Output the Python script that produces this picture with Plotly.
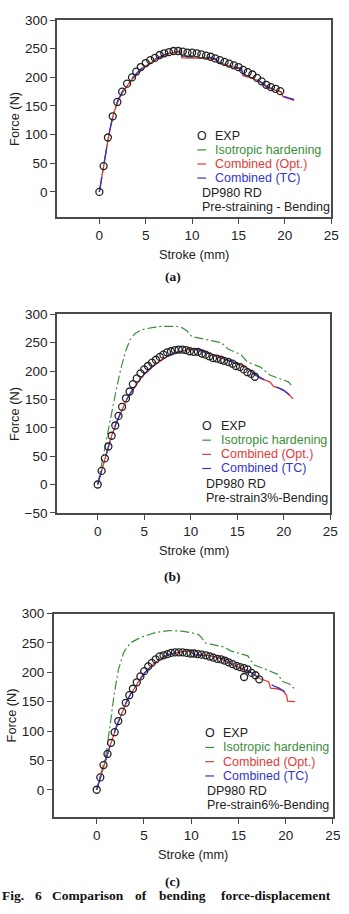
import plotly.graph_objects as go

W, H = 349, 914

# ---------------- DATA ----------------
# Panel (a): Pre-straining - Bending
a_exp_x = [0, 0.46, 0.92, 1.44, 1.94, 2.46, 2.99, 3.52, 3.98, 4.47, 5.0, 5.49, 5.99, 6.5, 7.0, 7.5, 8.0, 8.5,
           9.0, 9.5, 10.0, 10.5, 11.0, 11.5, 12.0, 12.5, 13.0, 13.5, 14.0, 14.5, 15.0, 15.5, 16.0, 16.5, 17.0,
           17.5, 18.0, 18.5, 19.0, 19.5]
a_exp_f = [0, 45, 95, 132, 157, 175, 189, 200, 210, 218, 225, 230, 234, 239, 242, 244, 246, 246,
           245, 243, 243, 242, 240, 238, 236, 233, 230, 227, 224, 221, 218, 213, 209, 205, 199,
           193, 187, 183, 180, 176]
a_sim_x = [0, 0.5, 1, 1.5, 2, 2.5, 3, 3.5, 4, 4.5, 5, 5.5, 6, 6.5, 7, 7.5, 8, 8.5, 8.8, 8.9, 10, 11, 12,
           12.6, 12.8, 13.5, 14, 15, 15.3, 15.5, 16, 16.5, 17, 17.5, 18, 18.5, 19, 19.6, 19.8, 20.5, 21]
a_iso_f = [0, 47, 97, 135, 159, 175, 187, 197, 206, 214, 220, 226, 231, 235, 239, 242, 244, 245, 246, 235,
           235, 235, 234, 231, 226, 223, 221, 217, 215, 204, 202, 199, 196, 191, 184, 181, 178, 175, 167, 164, 161]
a_opt_f = [0, 47, 97, 135, 158, 174, 186, 196, 205, 213, 219, 225, 230, 234, 238, 241, 243, 244, 245, 234,
           234, 234, 233, 230, 225, 222, 220, 216, 214, 203, 201, 198, 195, 190, 183, 180, 177, 174, 166, 163, 160]
a_tc_f = [0, 47, 98, 136, 160, 176, 188, 198, 207, 215, 221, 227, 232, 236, 240, 243, 245, 247, 248, 237,
          237, 236, 235, 232, 227, 224, 221, 217, 215, 205, 203, 199, 196, 191, 185, 181, 178, 175, 167, 164, 161]

# Panel (b): Pre-strain 3% - Bending
b_exp_x = [0, 0.42, 0.77, 1.15, 1.5, 1.89, 2.24, 2.62, 3.04, 3.43, 3.78, 4.2, 4.6, 5.0, 5.4, 5.84, 6.26, 6.68,
           7.06, 7.45, 7.87, 8.29, 8.7, 9.1, 9.5, 9.9, 10.35, 10.77, 11.2, 11.6, 12.0, 12.4, 12.8, 13.25,
           13.6, 14.05, 14.5, 14.86, 15.3, 15.7, 16.1, 16.5, 16.9]
b_exp_f = [0, 24, 46, 67, 86, 104, 121, 137, 152, 164, 177, 187, 196, 203, 209, 215, 220, 225,
           229, 233, 235, 237, 238, 238, 237, 235, 234, 234, 231, 229, 226, 223, 222, 220,
           218, 216, 213, 209, 207, 203, 198, 195, 190]
b_iso_x = [0, 0.5, 1.0, 1.5, 2.0, 2.5, 3.0, 3.5, 4.0, 4.5, 5, 6, 7, 8, 8.4, 9, 9.6, 10.1, 11, 11.9, 12.5,
           13.3, 14.0, 15.0, 15.4, 16.1, 16.6, 17.5, 18.5, 19.0, 20.0, 20.5, 21.0]
b_iso_f = [0, 42, 85, 128, 168, 205, 235, 256, 266, 271, 274, 277, 279, 279, 279, 277, 271, 261, 258, 255, 253,
           250, 239, 231, 229, 216, 213, 207, 193, 190, 185, 181, 171]
b_sim_x = [0, 0.5, 1, 1.5, 2, 2.5, 3, 3.5, 4, 4.5, 5, 5.5, 6, 6.5, 7, 7.5, 8, 8.5, 9, 9.5, 10, 10.5, 11, 11.5,
           12, 12.5, 13, 13.5, 14, 14.5, 15, 15.5, 16, 16.5, 16.8, 17.5, 18, 18.5, 18.9, 19.5, 20, 20.5, 21]
b_opt_f = [0, 28, 58, 86, 108, 128, 146, 160, 173, 184, 194, 202, 209, 215, 221, 226, 230, 233, 235, 237, 238,
           239, 237, 234, 231, 228, 225, 223, 220, 217, 214, 210, 205, 200, 195, 187, 184, 181, 173, 170, 166, 160, 151]
b_tc_f = [0, 28, 59, 87, 109, 129, 147, 161, 174, 185, 195, 203, 210, 216, 221, 226, 230, 233, 235, 236, 237,
          238, 237, 234, 231, 228, 226, 223, 220, 217, 214, 210, 205, 200, 195, 188, 184, 181, 174, 170, 166, 159, 151]

# Panel (c): Pre-strain 6% - Bending
c_exp_x = [0, 0.38, 0.72, 1.14, 1.52, 1.9, 2.28, 2.69, 3.07, 3.45, 3.83, 4.24, 4.62, 5.03, 5.45, 5.83, 6.24,
           6.66, 7.07, 7.48, 7.86, 8.28, 8.69, 9.1, 9.52, 9.93, 10.3, 10.7, 11.1, 11.55, 11.97, 12.34, 12.76,
           13.17, 13.55, 13.97, 14.38, 14.8, 15.17, 15.6, 15.6, 15.97, 16.4, 16.8, 17.2]
c_exp_f = [0, 21, 42, 61, 80, 98, 117, 133, 148, 161, 172, 183, 193, 202, 210, 216, 222,
           227, 229, 231, 233, 234, 234, 234, 233, 232, 232, 231, 230, 229, 227, 225, 223,
           222, 220, 217, 214, 211, 209, 207, 192, 205, 199, 195, 188]
c_iso_x = [0, 0.5, 1.0, 1.5, 1.83, 2.3, 2.86, 3.55, 4.59, 5.5, 6.3, 7.7, 9.07, 10.45, 10.8, 11.1, 11.5, 12.9,
           13.55, 14.1, 15.1, 16.0, 16.6, 17.7, 18.7, 19.1, 19.75, 20.4, 21.0]
c_iso_f = [0, 30, 62, 120, 161, 205, 234, 250, 259, 264, 268, 271, 270, 266, 264, 259, 250, 245,
           243, 237, 232, 228, 213, 206, 199, 197, 184, 180, 171]
c_opt_x = [0, 0.5, 1, 1.5, 2, 2.5, 3, 3.5, 4, 4.5, 5, 5.5, 6, 6.5, 7, 7.5, 8, 8.5, 9, 9.5, 9.9, 10.3, 11, 12,
           12.9, 13.9, 14.5, 15.3, 16.3, 17.3, 18.2, 18.4, 19.1, 19.7, 20.1, 20.2, 21]
c_opt_f = [0, 27, 55, 79, 103, 125, 144, 160, 174, 186, 197, 206, 214, 220, 225, 229, 232, 234, 235, 236,
           237, 230, 230, 228, 225, 217, 213, 208, 200, 189, 184, 173, 172, 169, 161, 151, 150]
c_tc_x = [0, 0.5, 1, 1.5, 2, 2.5, 3, 3.5, 4, 4.5, 5, 5.5, 6, 6.5, 7, 7.5, 8, 8.5, 9, 9.5, 10, 10.3, 11, 12,
          12.9, 13.9, 14.2, 15.3, 16.3, 17.3, 18.2, 18.6, 19.3, 19.8, 20.3, 21]
c_tc_f = [0, 27, 56, 80, 104, 126, 145, 161, 175, 187, 198, 207, 215, 221, 226, 230, 232, 233, 234, 235,
          234, 230, 229, 227, 224, 222, 215, 208, 200, 189, 184, 178, 173, 168, 166, 165]

x_ticks = [0, 5, 10, 15, 20, 25]
a_y_ticks = [0, 50, 100, 150, 200, 250, 300]
b_y_ticks = [-50, 0, 50, 100, 150, 200, 250, 300]
c_y_ticks = [0, 50, 100, 150, 200, 250, 300]

legend_names = ["EXP", "Isotropic hardening", "Combined (Opt.)", "Combined (TC)"]
panel_notes = [("DP980 RD", "Pre-straining - Bending"),
               ("DP980 RD", "Pre-strain3%-Bending"),
               ("DP980 RD", "Pre-strain6%-Bending")]
panel_tags = ["(a)", "(b)", "(c)"]
caption_words = ["Fig.", "6", "Comparison", "of", "bending", "force-displacement"]

# ---------------- STYLE ----------------
SANS = "Liberation Sans, Arial, sans-serif"
SERIF = "Liberation Serif, Times New Roman, serif"
GREEN = "#3a8f3a"
RED = "#e03a3a"
BLUE = "#3535c8"
AX = "#4a4a4a"


def px(x):
    return x / W


def py(y):
    return 1 - y / H


panels = [
    dict(exp=(a_exp_x, a_exp_f), iso=(a_sim_x, a_iso_f), opt=(a_sim_x, a_opt_f), tc=(a_sim_x, a_tc_f),
         xdom=(58.3, 339), ydom=(13.3, 213.3), xr=[-4.57, 25], yr=[-43.5, 300], yt=a_y_ticks,
         leg=dict(y0=131, dy=14.3, sym=207, txt=217.5, note=204.5),
         tag_y=274, xtitle_y=251.7),
    dict(exp=(b_exp_x, b_exp_f), iso=(b_iso_x, b_iso_f), opt=(b_sim_x, b_opt_f), tc=(b_sim_x, b_tc_f),
         xdom=(58.3, 338), ydom=(312.5, 514.3), xr=[-4.38, 25], yr=[-50, 300], yt=b_y_ticks,
         leg=dict(y0=426, dy=14.4, sym=212, txt=224, note=209),
         tag_y=579, xtitle_y=552.7),
    dict(exp=(c_exp_x, c_exp_f), iso=(c_iso_x, c_iso_f), opt=(c_opt_x, c_opt_f), tc=(c_tc_x, c_tc_f),
         xdom=(55, 340.7), ydom=(616.7, 823.3), xr=[-4.55, 25], yr=[-46, 300], yt=c_y_ticks,
         leg=dict(y0=738.3, dy=14.5, sym=215, txt=226.5, note=210),
         tag_y=889, xtitle_y=861.7),
]

fig = go.Figure()
layout = dict(width=W, height=H, margin=dict(l=0, r=0, t=0, b=0),
              paper_bgcolor="white", plot_bgcolor="white", showlegend=False)
annotations = []
shapes = []

for i, p in enumerate(panels):
    n = "" if i == 0 else str(i + 1)
    xa, ya = "x" + n, "y" + n
    fig.add_trace(go.Scatter(x=p["iso"][0], y=p["iso"][1], mode="lines", xaxis=xa, yaxis=ya,
                             line=dict(color=GREEN, width=1.2, dash="9px,3px,2px,3px"), name=legend_names[1]))
    fig.add_trace(go.Scatter(x=p["opt"][0], y=p["opt"][1], mode="lines", xaxis=xa, yaxis=ya,
                             line=dict(color=RED, width=1.3), name=legend_names[2]))
    fig.add_trace(go.Scatter(x=p["tc"][0], y=p["tc"][1], mode="lines", xaxis=xa, yaxis=ya,
                             line=dict(color=BLUE, width=1.3, dash="longdash"), name=legend_names[3]))
    fig.add_trace(go.Scatter(x=p["exp"][0], y=p["exp"][1], mode="markers", xaxis=xa, yaxis=ya,
                             marker=dict(symbol="circle-open", size=7, color="#222222",
                                         line=dict(width=1.3, color="#222222")), name=legend_names[0]))
    common = dict(showgrid=False, zeroline=False, showline=True, linecolor=AX, linewidth=1.6,
                  mirror=True, ticks="outside", ticklen=5, tickwidth=1.2, tickcolor=AX,
                  tickfont=dict(family=SANS, size=13.5, color="#222222"))
    layout["xaxis" + n] = dict(common, domain=[px(p["xdom"][0]), px(p["xdom"][1])], range=p["xr"],
                               tickvals=x_ticks, anchor=ya, ticklabelstandoff=0)
    layout["yaxis" + n] = dict(common, domain=[py(p["ydom"][1]), py(p["ydom"][0])], range=p["yr"],
                               tickvals=p["yt"], anchor=xa)
    # axis titles
    xc = (p["xdom"][0] + p["xdom"][1]) / 2
    yc = (p["ydom"][0] + p["ydom"][1]) / 2
    annotations.append(dict(x=px(xc), y=py(p["xtitle_y"]), xref="paper", yref="paper", text="Stroke (mm)",
                            showarrow=False, xanchor="center", yanchor="middle",
                            font=dict(family=SANS, size=12.8, color="#222222")))
    annotations.append(dict(x=px(p["xdom"][0] - 43.5), y=py(yc), xref="paper", yref="paper", text="Force (N)",
                            showarrow=False, textangle=-90, xanchor="center", yanchor="middle",
                            font=dict(family=SANS, size=12.8, color="#222222")))
    annotations.append(dict(x=px(177), y=py(p["tag_y"]), xref="paper", yref="paper",
                            text="<b>" + panel_tags[i] + "</b>", showarrow=False,
                            xanchor="center", yanchor="middle",
                            font=dict(family=SERIF, size=13.5, color="#111111")))
    # legend block
    L = p["leg"]
    cols = ["#222222", GREEN, RED, BLUE]
    for k, name in enumerate(legend_names):
        yy = L["y0"] + k * L["dy"]
        annotations.append(dict(x=px(L["txt"]), y=py(yy), xref="paper", yref="paper", text=name,
                                showarrow=False, xanchor="left", yanchor="middle",
                                font=dict(family=SANS, size=12.5, color=cols[k])))
        if k == 0:
            annotations.append(dict(x=px(L["sym"]), y=py(yy), xref="paper", yref="paper", text="O",
                                    showarrow=False, xanchor="center", yanchor="middle",
                                    font=dict(family=SANS, size=12.5, color="#222222")))
        else:
            shapes.append(dict(type="line", xref="paper", yref="paper",
                               x0=px(L["sym"] - 5), x1=px(L["sym"] + 4), y0=py(yy), y1=py(yy),
                               line=dict(color=cols[k], width=1.2)))
    for j, note in enumerate(panel_notes[i]):
        yy = L["y0"] + (4 + j) * L["dy"] + 1
        annotations.append(dict(x=px(L["note"]), y=py(yy), xref="paper", yref="paper", text=note,
                                showarrow=False, xanchor="left", yanchor="middle",
                                font=dict(family=SANS, size=12.5, color="#222222")))

# caption (kept fully inside the page)
cap_x = [0, 34, 51, 136, 161, 224]
for word, cx in zip(caption_words, cap_x):
    annotations.append(dict(x=px(cx), y=py(913), xref="paper", yref="paper", text="<b>" + word + "</b>",
                            showarrow=False, xanchor="left", yanchor="bottom",
                            font=dict(family=SERIF, size=13.5, color="#111111")))

layout["annotations"] = annotations
layout["shapes"] = shapes
fig.update_layout(**layout)
fig.write_html("out.html")
